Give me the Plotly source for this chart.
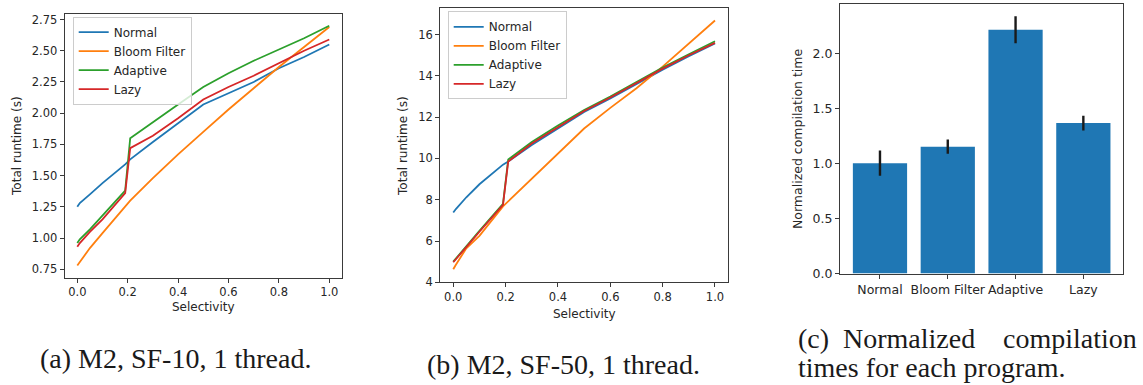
import plotly.graph_objects as go

W, H = 1143, 385

# ---------------- data ----------------
selectivity = [0, 0.01, 0.05, 0.1, 0.19, 0.21, 0.3, 0.4, 0.5, 0.6, 0.7, 0.8, 0.9, 1.0]

a_normal   = [1.25, 1.28, 1.35, 1.44, 1.59, 1.63, 1.77, 1.92, 2.07, 2.16, 2.25, 2.36, 2.45, 2.55]
a_bloom    = [0.78, 0.81, 0.92, 1.04, 1.26, 1.30, 1.48, 1.67, 1.85, 2.03, 2.20, 2.37, 2.53, 2.69]
a_adaptive = [0.96, 0.99, 1.07, 1.18, 1.38, 1.80, 1.93, 2.07, 2.21, 2.32, 2.42, 2.51, 2.60, 2.70]
a_lazy     = [0.93, 0.96, 1.05, 1.15, 1.36, 1.72, 1.82, 1.96, 2.11, 2.21, 2.30, 2.40, 2.50, 2.59]

b_normal   = [7.38, 7.55, 8.12, 8.75, 9.70, 9.85, 10.65, 11.45, 12.25, 12.90, 13.60, 14.30, 14.95, 15.57]
b_bloom    = [4.63, 4.85, 5.65, 6.25, 7.68, 7.92, 9.00, 10.20, 11.45, 12.45, 13.40, 14.45, 15.55, 16.68]
b_adaptive = [5.00, 5.15, 5.80, 6.50, 7.80, 9.95, 10.80, 11.60, 12.35, 13.00, 13.70, 14.40, 15.05, 15.68]
b_lazy     = [4.97, 5.12, 5.75, 6.45, 7.75, 9.85, 10.72, 11.52, 12.30, 12.95, 13.65, 14.35, 15.00, 15.60]

programs = ["Normal", "Bloom Filter", "Adaptive", "Lazy"]
compile_time = [1.005, 1.155, 2.22, 1.37]
compile_err = [0.115, 0.065, 0.123, 0.067]

series_names = ["Normal", "Bloom Filter", "Adaptive", "Lazy"]
colors = ["#1f77b4", "#ff7f0e", "#2ca02c", "#d62728"]

sel_ticks = [0, 0.2, 0.4, 0.6, 0.8, 1.0]
a_yticks = [0.75, 1.0, 1.25, 1.5, 1.75, 2.0, 2.25, 2.5, 2.75]
b_yticks = [4, 6, 8, 10, 12, 14, 16]
c_yticks = [0, 0.5, 1.0, 1.5, 2.0]

# ---------------- helpers ----------------
def px(x):
    return x / W

def py(y):
    return (H - y) / H

TXT = "#262626"
SPINE = "#3a3a3a"
SANS = "DejaVu Sans"
SERIF = "Liberation Serif"

def axis_style(fs):
    return dict(
        showline=True, linecolor=SPINE, linewidth=1, mirror=True,
        ticks="outside", ticklen=4, tickwidth=1, tickcolor=SPINE,
        showgrid=False, zeroline=False,
        tickfont=dict(family=SANS, size=fs, color=TXT),
    )

fig = go.Figure()

for name, col, ys in zip(series_names, colors, [a_normal, a_bloom, a_adaptive, a_lazy]):
    fig.add_trace(go.Scatter(x=selectivity, y=ys, mode="lines", name=name,
                             line=dict(color=col, width=1.8),
                             xaxis="x", yaxis="y", legend="legend"))

for name, col, ys in zip(series_names, colors, [b_normal, b_bloom, b_adaptive, b_lazy]):
    fig.add_trace(go.Scatter(x=selectivity, y=ys, mode="lines", name=name,
                             line=dict(color=col, width=1.8),
                             xaxis="x2", yaxis="y2", legend="legend2"))

fig.add_trace(go.Bar(x=list(range(len(programs))), y=compile_time, width=0.8,
                     marker=dict(color="#1f77b4", line=dict(width=0)),
                     error_y=dict(type="data", array=compile_err, color="#1a1a1a",
                                  thickness=2.4, width=0),
                     xaxis="x3", yaxis="y3", showlegend=False))

fig.update_layout(
    width=W, height=H, autosize=False,
    margin=dict(l=0, r=0, t=0, b=0),
    paper_bgcolor="white", plot_bgcolor="white",
    font=dict(family=SANS, color=TXT),
    xaxis=dict(domain=[0.0566, 0.2991], range=[-0.05, 1.05], anchor="y",
               tickvals=sel_ticks, tickformat=".1f", **axis_style(11.5)),
    yaxis=dict(domain=[0.2665, 0.966], range=[0.684, 2.796], anchor="x",
               tickvals=a_yticks, tickformat=".2f", **axis_style(11.5)),
    xaxis2=dict(domain=[0.3851, 0.637], range=[-0.05, 1.05], anchor="y2",
                tickvals=sel_ticks, tickformat=".1f", **axis_style(11.5)),
    yaxis2=dict(domain=[0.2538, 0.9821], range=[4.0, 17.3], anchor="x2",
                tickvals=b_yticks, tickformat="d", **axis_style(11.5)),
    xaxis3=dict(domain=[0.7349, 0.9828], range=[-0.59, 3.59], anchor="y3",
                tickvals=list(range(len(programs))), ticktext=programs,
                **axis_style(12.5)),
    yaxis3=dict(domain=[0.2771, 0.993], range=[0, 2.457], anchor="x3",
                tickvals=c_yticks, tickformat=".1f", **axis_style(12.5)),
    legend=dict(x=px(72.7), y=py(16), xanchor="left", yanchor="top",
                bgcolor="rgba(255,255,255,0.8)", bordercolor="#cccccc", borderwidth=1,
                font=dict(family=SANS, size=12, color=TXT)),
    legend2=dict(x=px(447.7), y=py(10.5), xanchor="left", yanchor="top",
                 bgcolor="rgba(255,255,255,0.8)", bordercolor="#cccccc", borderwidth=1,
                 font=dict(family=SANS, size=12, color=TXT)),
    bargap=0.2,
)

def ann(text, x, y, size, family=SANS, xanchor="center", angle=0):
    fig.add_annotation(text=text, x=px(x), y=py(y), xref="paper", yref="paper",
                       xanchor=xanchor, yanchor="middle", showarrow=False,
                       textangle=angle, font=dict(family=family, size=size, color=TXT if family == SANS else "#1a1a1a"))

# axis titles
ann("Total runtime (s)", 17, 148, 12, angle=-90)
ann("Selectivity", 203.3, 313, 12)
ann("Total runtime (s)", 403, 148, 12, angle=-90)
ann("Selectivity", 584, 320, 12)
ann("Normalized compilation time", 797, 141, 12.5, angle=-90)

# captions
ann("(a) M2, SF-10, 1 thread.", 175.5, 365, 28, family=SERIF)
ann("(b) M2, SF-50, 1 thread.", 563, 371, 28, family=SERIF)
ann("(c)", 796, 345, 28, family=SERIF, xanchor="left")
ann("Normalized", 909, 345, 28, family=SERIF)
ann("compilation", 1139, 345, 28, family=SERIF, xanchor="right")
ann("times for each program.", 796, 374, 28, family=SERIF, xanchor="left")

fig.write_html("out.html")
